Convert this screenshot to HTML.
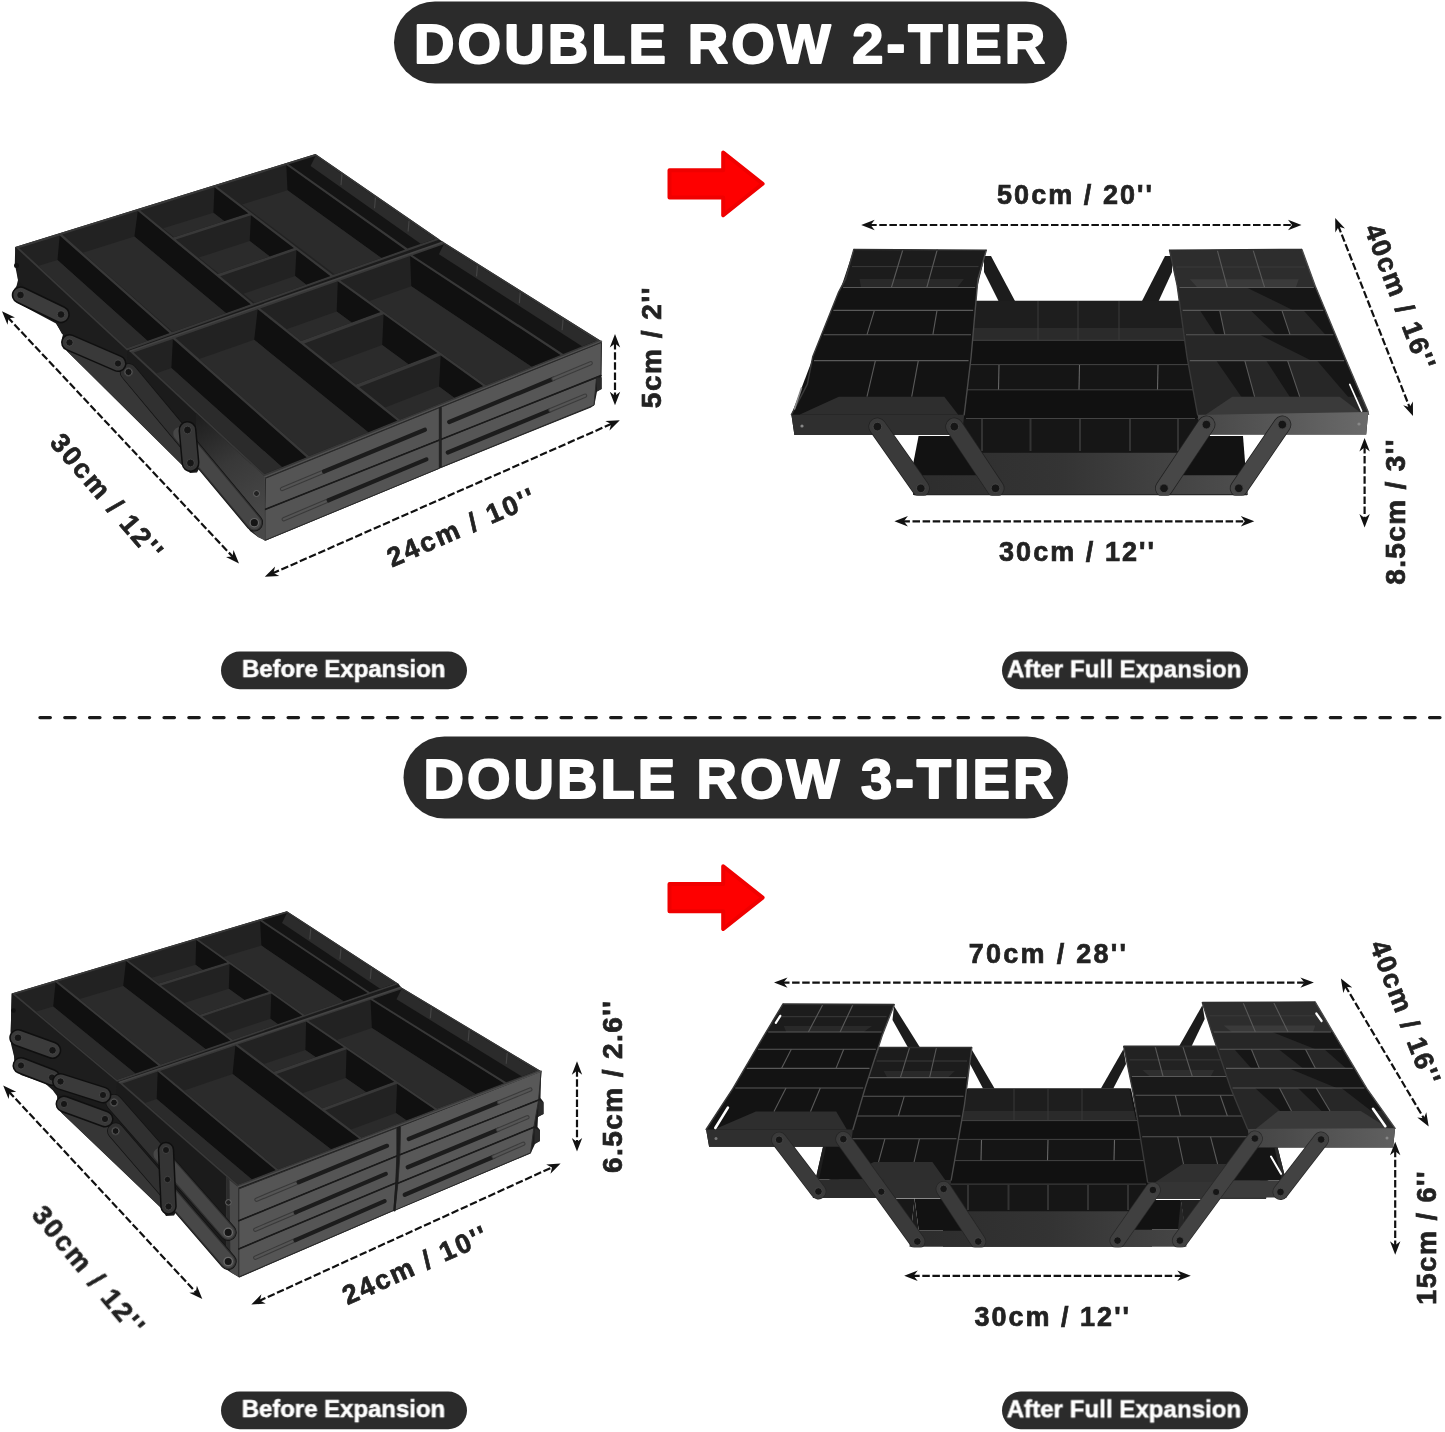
<!DOCTYPE html>
<html><head><meta charset="utf-8"><title>Double Row Tier Tool Box Dimensions</title>
<style>
html,body{margin:0;padding:0;background:#fff}
svg{display:block}
text{font-family:"Liberation Sans", Arial, Helvetica, sans-serif;font-weight:700}
.d text{stroke:#222;stroke-width:0.7px}
</style></head><body>
<svg width="1445" height="1432" viewBox="0 0 1445 1432">
<rect width="1445" height="1432" fill="#fff"/>
<rect x="394" y="1.5" width="673" height="82" rx="41" fill="#2b2b2b"/>
<text x="414.1" y="63.3" font-size="56" fill="#fff" letter-spacing="3.077" stroke="#fff" stroke-width="2" stroke-linejoin="round">DOUBLE ROW 2-TIER</text>
<rect x="403.5" y="736.5" width="664.5" height="82" rx="41" fill="#2b2b2b"/>
<text x="423.6" y="798.3" font-size="56" fill="#fff" letter-spacing="3.002" stroke="#fff" stroke-width="2" stroke-linejoin="round">DOUBLE ROW 3-TIER</text>
<line x1="40" y1="717.6" x2="1450" y2="717.6" stroke="#1a1a1a" stroke-width="3.4" stroke-linecap="round" stroke-dasharray="10.3 14.515"/>
<rect x="221" y="651.6" width="246" height="37.6" rx="18.8" fill="#2b2b2b"/>
<rect x="1002" y="651.6" width="246" height="37.6" rx="18.8" fill="#2b2b2b"/>
<rect x="221" y="1391.6" width="246" height="37.6" rx="18.8" fill="#2b2b2b"/>
<rect x="1002" y="1391.6" width="246" height="37.6" rx="18.8" fill="#2b2b2b"/>
<g opacity="0.999">
<text x="242.2" y="676.7" font-size="24" fill="#fff" letter-spacing="-0.037" stroke="#fff" stroke-width="0.5" transform="rotate(0.02)">Before Expansion</text>
<text x="1007.2" y="676.7" font-size="24" fill="#fff" letter-spacing="0.060" stroke="#fff" stroke-width="0.5" transform="rotate(0.02)">After Full Expansion</text>
<text x="242.2" y="1416.7" font-size="24" fill="#fff" letter-spacing="-0.037" stroke="#fff" stroke-width="0.5" transform="rotate(0.02)">Before Expansion</text>
<text x="1007.2" y="1416.7" font-size="24" fill="#fff" letter-spacing="0.060" stroke="#fff" stroke-width="0.5" transform="rotate(0.02)">After Full Expansion</text>
</g>
<polygon points="669.5,170.2 723.2,170.2 723.2,152.5 762.6,183.8 723.2,215.2 723.2,197.5 669.5,197.5" fill="#fe0000" stroke="#f00000" stroke-width="4" stroke-linejoin="round"/>
<polygon points="669.5,884 723.2,884 723.2,866.3 762.6,897.6 723.2,929 723.2,911.3 669.5,911.3" fill="#fe0000" stroke="#f00000" stroke-width="4" stroke-linejoin="round"/>
<g class="d" opacity="0.999">
<line x1="7.5" y1="317.1" x2="233.5" y2="557.6" stroke="#111" stroke-width="2.2" stroke-dasharray="7.5 2.6"/>
<polygon points="239,563.4 233.5,550 232.5,556.5 226,557.1" fill="#111"/>
<polygon points="2,311.3 7.5,324.7 8.5,318.2 15,317.6" fill="#111"/>
<text font-size="27" fill="#222" letter-spacing="2.156" transform="translate(107 496.2) rotate(49.4)" x="-78" y="9.7">30cm / 12''</text>
<line x1="272.1" y1="573.6" x2="612.5" y2="423.4" stroke="#111" stroke-width="2.2" stroke-dasharray="7.5 2.6"/>
<polygon points="619.8,420.2 605.3,420.9 611.1,424 609.5,430.4" fill="#111"/>
<polygon points="264.8,576.8 279.3,576.1 273.5,573 275.1,566.6" fill="#111"/>
<text font-size="27" fill="#222" letter-spacing="2.356" transform="translate(460.5 527) rotate(-23.5)" x="-79" y="9.7">24cm / 10''</text>
<line x1="615" y1="342.1" x2="615" y2="397.3" stroke="#111" stroke-width="2.2" stroke-dasharray="7.5 2.6"/>
<polygon points="615,405.3 620.2,391.8 615,395.8 609.8,391.8" fill="#111"/>
<polygon points="615,334.1 609.8,347.6 615,343.6 620.2,347.6" fill="#111"/>
<text font-size="28" fill="#222" letter-spacing="1.529" transform="translate(651.2 348) rotate(-90)" x="-60.2" y="10">5cm / 2''</text>
<line x1="869.2" y1="225" x2="1293.5" y2="225" stroke="#111" stroke-width="2.2" stroke-dasharray="7.5 2.6"/>
<polygon points="1301.5,225 1288,219.8 1292,225 1288,230.2" fill="#111"/>
<polygon points="861.2,225 874.7,230.2 870.7,225 874.7,219.8" fill="#111"/>
<text x="997" y="203.6" font-size="27" fill="#222" letter-spacing="2.056">50cm / 20''</text>
<line x1="1338.1" y1="225.3" x2="1410.1" y2="408.6" stroke="#111" stroke-width="2.2" stroke-dasharray="7.5 2.6"/>
<polygon points="1413,416 1412.9,401.5 1409.5,407.2 1403.2,405.3" fill="#111"/>
<polygon points="1335.2,217.9 1335.3,232.4 1338.7,226.7 1345,228.6" fill="#111"/>
<text font-size="27" fill="#222" letter-spacing="1.856" transform="translate(1400.4 296.4) rotate(69)" x="-76.5" y="9.7">40cm / 16''</text>
<line x1="1364.6" y1="446" x2="1364.6" y2="519.5" stroke="#111" stroke-width="2.2" stroke-dasharray="7.5 2.6"/>
<polygon points="1364.6,527.5 1369.8,514 1364.6,518 1359.4,514" fill="#111"/>
<polygon points="1364.6,438 1359.4,451.5 1364.6,447.5 1369.8,451.5" fill="#111"/>
<text font-size="28" fill="#222" letter-spacing="1.338" transform="translate(1395.4 512.2) rotate(-90)" x="-72.5" y="10">8.5cm / 3''</text>
<line x1="902.4" y1="521.3" x2="1246.3" y2="521.3" stroke="#111" stroke-width="2.2" stroke-dasharray="7.5 2.6"/>
<polygon points="1254.3,521.3 1240.8,516.1 1244.8,521.3 1240.8,526.5" fill="#111"/>
<polygon points="894.4,521.3 907.9,526.5 903.9,521.3 907.9,516.1" fill="#111"/>
<text x="999" y="561.4" font-size="27" fill="#222" letter-spacing="2.056">30cm / 12''</text>
<line x1="8.7" y1="1091.4" x2="196.8" y2="1293.2" stroke="#111" stroke-width="2.2" stroke-dasharray="7.5 2.6"/>
<polygon points="202.3,1299.1 196.9,1285.7 195.8,1292.2 189.3,1292.8" fill="#111"/>
<polygon points="3.2,1085.5 8.6,1098.9 9.7,1092.4 16.2,1091.8" fill="#111"/>
<text font-size="27" fill="#222" letter-spacing="2.356" transform="translate(88.7 1269.7) rotate(50.2)" x="-79" y="9.7">30cm / 12''</text>
<line x1="258.6" y1="1301.2" x2="553.3" y2="1166.8" stroke="#111" stroke-width="2.2" stroke-dasharray="7.5 2.6"/>
<polygon points="560.6,1163.5 546.2,1164.4 552,1167.4 550.5,1173.8" fill="#111"/>
<polygon points="251.3,1304.5 265.7,1303.6 259.9,1300.6 261.4,1294.2" fill="#111"/>
<text font-size="27" fill="#222" letter-spacing="2.056" transform="translate(414.4 1264.8) rotate(-24)" x="-77.5" y="9.7">24cm / 10''</text>
<line x1="577" y1="1069.2" x2="577" y2="1143.4" stroke="#111" stroke-width="2.2" stroke-dasharray="7.5 2.6"/>
<polygon points="577,1151.4 582.2,1137.9 577,1141.9 571.8,1137.9" fill="#111"/>
<polygon points="577,1061.2 571.8,1074.7 577,1070.7 582.2,1074.7" fill="#111"/>
<text font-size="28" fill="#222" letter-spacing="1.402" transform="translate(612 1087) rotate(-90)" x="-85.9" y="10">6.5cm / 2.6''</text>
<line x1="782" y1="982.6" x2="1305.9" y2="982.6" stroke="#111" stroke-width="2.2" stroke-dasharray="7.5 2.6"/>
<polygon points="1313.9,982.6 1300.4,977.4 1304.4,982.6 1300.4,987.8" fill="#111"/>
<polygon points="774,982.6 787.5,987.8 783.5,982.6 787.5,977.4" fill="#111"/>
<text x="968.7" y="963" font-size="27" fill="#222" letter-spacing="2.286">70cm / 28''</text>
<line x1="1345" y1="985.5" x2="1424.6" y2="1119.6" stroke="#111" stroke-width="2.2" stroke-dasharray="7.5 2.6"/>
<polygon points="1428.7,1126.5 1426.3,1112.2 1423.9,1118.3 1417.3,1117.5" fill="#111"/>
<polygon points="1340.9,978.6 1343.3,992.9 1345.7,986.8 1352.3,987.6" fill="#111"/>
<text font-size="27" fill="#222" letter-spacing="1.706" transform="translate(1405.7 1012.1) rotate(69)" x="-75.8" y="9.7">40cm / 16''</text>
<line x1="1395.2" y1="1149.7" x2="1395.2" y2="1246.7" stroke="#111" stroke-width="2.2" stroke-dasharray="7.5 2.6"/>
<polygon points="1395.2,1254.7 1400.4,1241.2 1395.2,1245.2 1390,1241.2" fill="#111"/>
<polygon points="1395.2,1141.7 1390,1155.2 1395.2,1151.2 1400.4,1155.2" fill="#111"/>
<text font-size="27" fill="#222" letter-spacing="1.509" transform="translate(1426.2 1238.2) rotate(-90)" x="-66.5" y="9.7">15cm / 6''</text>
<line x1="912.2" y1="1275.8" x2="1182.8" y2="1275.8" stroke="#111" stroke-width="2.2" stroke-dasharray="7.5 2.6"/>
<polygon points="1190.8,1275.8 1177.3,1270.6 1181.3,1275.8 1177.3,1281" fill="#111"/>
<polygon points="904.2,1275.8 917.7,1281 913.7,1275.8 917.7,1270.6" fill="#111"/>
<text x="974.5" y="1326" font-size="27" fill="#222" letter-spacing="2.006">30cm / 12''</text>
</g>
<g id="p1">
<polygon points="15.2,246.9 315.5,153.9 439.5,239.4 443.3,241.9 601.5,341.2 601.2,375 601.6,377.5 601.6,389 597,391.5 594.5,404.5 591,407.5 441,468 266,540.5 258,537 250,531 246.5,524 199.5,468 197,472.5 190,473 187,470 66.6,350.8 63.5,346 62,338 63,334.5 56,323.5 18.5,303.5 14,298 13.3,291 16.5,286 18,280 14.8,264" fill="#1b1b1b"/>
<polygon points="66.6,350.8 120,368 131,378 199,466 188,470.5" fill="#373737"/>
<polygon points="15.2,246.9 127,350.5 128,371 62,334 56,323 18,280" fill="#1d1d1d"/>
<polygon points="15.2,246.9 315.5,153.9 439.5,239.4 127,350.5" fill="#383838"/>
<clipPath id="p1a1"><polygon points="19,248 59.7,235.4 169.5,333.1 127.2,348.1"/></clipPath>
<polygon points="19,248 59.7,235.4 169.5,333.1 127.2,348.1" fill="#222222"/>
<polygon points="59.7,235.4 203.6,363.4 198.8,386.8 57.5,260" fill="#101010" clip-path="url(#p1a1)"/>
<polygon points="34.6,267.1 57.5,260 198.8,386.8 174.8,395.7" fill="#2b2b2b" clip-path="url(#p1a1)"/>
<clipPath id="p1a2"><polygon points="62.1,234.6 137.8,211.1 250.7,304.2 172,332.2"/></clipPath>
<polygon points="62.1,234.6 137.8,211.1 250.7,304.2 172,332.2" fill="#222222"/>
<polygon points="137.8,211.1 285.7,333.1 279.6,357.8 134.4,236.6" fill="#101010" clip-path="url(#p1a2)"/>
<polygon points="82.7,252.7 134.4,236.6 279.6,357.8 225.2,377.8" fill="#2b2b2b" clip-path="url(#p1a2)"/>
<clipPath id="p1a3"><polygon points="140.3,210.4 214.5,187.3 248.3,213.2 173.2,237.5"/></clipPath>
<polygon points="140.3,210.4 214.5,187.3 248.3,213.2 173.2,237.5" fill="#222222"/>
<polygon points="214.5,187.3 284.3,240.7 280.8,264.9 213.4,212.7" fill="#101010" clip-path="url(#p1a3)"/>
<polygon points="163.2,228.3 213.4,212.7 280.8,264.9 229.4,282.2" fill="#2b2b2b" clip-path="url(#p1a3)"/>
<clipPath id="p1a4"><polygon points="175.8,239.6 251,215.2 293.9,248.1 217.6,274.1"/></clipPath>
<polygon points="175.8,239.6 251,215.2 293.9,248.1 217.6,274.1" fill="#222222"/>
<polygon points="251,215.2 329.8,275.6 326.1,300 249.7,240.9" fill="#101010" clip-path="url(#p1a4)"/>
<polygon points="198.9,257.4 249.7,240.9 326.1,300 274,318.5" fill="#2b2b2b" clip-path="url(#p1a4)"/>
<clipPath id="p1a5"><polygon points="220.2,276.2 296.5,250.1 330.3,276 253.2,303.4"/></clipPath>
<polygon points="220.2,276.2 296.5,250.1 330.3,276 253.2,303.4" fill="#222222"/>
<polygon points="296.5,250.1 366.3,303.5 362.4,328.2 295.1,276" fill="#101010" clip-path="url(#p1a5)"/>
<polygon points="243.5,293.7 295.1,276 362.4,328.2 309.7,347.6" fill="#2b2b2b" clip-path="url(#p1a5)"/>
<clipPath id="p1a6"><polygon points="216.9,186.6 286.3,165 405,249.5 332.8,275.1"/></clipPath>
<polygon points="216.9,186.6 286.3,165 405,249.5 332.8,275.1" fill="#222222"/>
<polygon points="286.3,165 441.8,275.7 440.2,300.4 287.5,190.3" fill="#101010" clip-path="url(#p1a6)"/>
<polygon points="242.1,204.5 287.5,190.3 440.2,300.4 392.5,317.9" fill="#2b2b2b" clip-path="url(#p1a6)"/>
<clipPath id="p1a7"><polygon points="288.7,164.3 315.6,155.9 435.5,238.7 407.5,248.6"/></clipPath>
<polygon points="288.7,164.3 315.6,155.9 435.5,238.7 407.5,248.6" fill="#141414"/>
<polygon points="315.6,155.9 435.5,238.7 430.5,250.7 310.6,165.9" fill="#2b2b2b" clip-path="url(#p1a7)"/>
<line x1="342" y1="174.1" x2="341" y2="185.1" stroke="#444" stroke-width="1.2" clip-path="url(#p1a7)"/>
<line x1="375.5" y1="197.3" x2="374.5" y2="208.3" stroke="#444" stroke-width="1.2" clip-path="url(#p1a7)"/>
<line x1="409.1" y1="220.5" x2="408.1" y2="231.5" stroke="#444" stroke-width="1.2" clip-path="url(#p1a7)"/>
<polygon points="129.5,351.2 443.3,241.9 601.5,341.2 264.6,477" fill="#383838"/>
<clipPath id="p1b8"><polygon points="133.7,352.6 172.9,338.9 306.5,457.2 264.5,474.1"/></clipPath>
<polygon points="133.7,352.6 172.9,338.9 306.5,457.2 264.5,474.1" fill="#222222"/>
<polygon points="172.9,338.9 347.9,493.9 343.1,521.8 171.4,368.1" fill="#101010" clip-path="url(#p1b8)"/>
<polygon points="149.4,375.8 171.4,368.1 343.1,521.8 319.1,531.8" fill="#2b2b2b" clip-path="url(#p1b8)"/>
<clipPath id="p1b9"><polygon points="175.4,338 257.7,309.3 397.3,420.6 309.1,456.1"/></clipPath>
<polygon points="175.4,338 257.7,309.3 397.3,420.6 309.1,456.1" fill="#222222"/>
<polygon points="257.7,309.3 440.6,455.2 433.3,484.9 254.2,339.8" fill="#101010" clip-path="url(#p1b9)"/>
<polygon points="196.9,359.8 254.2,339.8 433.3,484.9 370.8,511" fill="#2b2b2b" clip-path="url(#p1b9)"/>
<clipPath id="p1b10"><polygon points="260.2,308.4 337.8,281.3 380.3,311.9 301.1,340.9"/></clipPath>
<polygon points="260.2,308.4 337.8,281.3 380.3,311.9 301.1,340.9" fill="#222222"/>
<polygon points="337.8,281.3 425.4,344.4 421,373.4 336.7,311.6" fill="#101010" clip-path="url(#p1b10)"/>
<polygon points="284.2,330.1 336.7,311.6 421,373.4 366.3,394.4" fill="#2b2b2b" clip-path="url(#p1b10)"/>
<clipPath id="p1b11"><polygon points="304.2,343.4 383.6,314.3 437.4,353.1 356,384.6"/></clipPath>
<polygon points="304.2,343.4 383.6,314.3 437.4,353.1 356,384.6" fill="#222222"/>
<polygon points="383.6,314.3 482.5,385.6 477.8,415 382.2,345" fill="#101010" clip-path="url(#p1b11)"/>
<polygon points="328.5,364.7 382.2,345 477.8,415 421.6,437.6" fill="#2b2b2b" clip-path="url(#p1b11)"/>
<clipPath id="p1b12"><polygon points="359.2,387.1 440.7,355.5 483.1,386.1 400,419.6"/></clipPath>
<polygon points="359.2,387.1 440.7,355.5 483.1,386.1 400,419.6" fill="#222222"/>
<polygon points="440.7,355.5 528.2,418.7 523.3,448.4 439,386.6" fill="#101010" clip-path="url(#p1b12)"/>
<polygon points="383.8,408 439,386.6 523.3,448.4 465.9,472.3" fill="#2b2b2b" clip-path="url(#p1b12)"/>
<clipPath id="p1b13"><polygon points="340.3,280.4 410.1,256 560.5,355 485.8,385"/></clipPath>
<polygon points="340.3,280.4 410.1,256 560.5,355 485.8,385" fill="#222222"/>
<polygon points="410.1,256 607.2,385.7 604.4,415.4 411.3,286.3" fill="#101010" clip-path="url(#p1b13)"/>
<polygon points="366.6,301.9 411.3,286.3 604.4,415.4 555.7,435.8" fill="#2b2b2b" clip-path="url(#p1b13)"/>
<clipPath id="p1b14"><polygon points="412.6,255.2 443.9,244.2 596.7,340.4 563.2,353.9"/></clipPath>
<polygon points="412.6,255.2 443.9,244.2 596.7,340.4 563.2,353.9" fill="#141414"/>
<polygon points="443.9,244.2 596.7,340.4 591.7,352.4 438.9,254.2" fill="#2b2b2b" clip-path="url(#p1b14)"/>
<line x1="477.5" y1="265.4" x2="476.5" y2="276.4" stroke="#444" stroke-width="1.2" clip-path="url(#p1b14)"/>
<line x1="520.3" y1="292.3" x2="519.3" y2="303.3" stroke="#444" stroke-width="1.2" clip-path="url(#p1b14)"/>
<line x1="563.1" y1="319.3" x2="562.1" y2="330.3" stroke="#444" stroke-width="1.2" clip-path="url(#p1b14)"/>
<line x1="129.5" y1="351.2" x2="443.3" y2="241.9" stroke="#444" stroke-width="1.6" />
<polygon points="247.5,461 264.6,477 265.5,478.3 264.9,540.4 258,537 249.5,528" fill="#4a4a4a"/>
<polygon points="247.5,461 251,464 252.5,530 249.5,528" fill="#2c2c2c"/>
<polygon points="265.5,478.3 439.3,407.8 439.3,440 264.9,509.6" fill="#545454" stroke="#2a2a2a" stroke-width="1" stroke-linejoin="round"/>
<line x1="282" y1="489" x2="324" y2="471.5" stroke="#3a3a3a" stroke-width="4.4" stroke-linecap="round"/>
<line x1="282" y1="489" x2="324" y2="471.5" stroke="#545454" stroke-width="2.2" stroke-linecap="round"/>
<line x1="324" y1="471.5" x2="424.9" y2="429.7" stroke="#1c1c1c" stroke-width="4.2" stroke-linecap="round"/>
<polygon points="441.3,407 601.5,342.4 601,375.5 441.3,439.4" fill="#565656" stroke="#2a2a2a" stroke-width="1" stroke-linejoin="round"/>
<line x1="449.2" y1="422" x2="553.5" y2="378.8" stroke="#1c1c1c" stroke-width="4.2" stroke-linecap="round"/>
<line x1="553.5" y1="378.8" x2="590.7" y2="363.2" stroke="#3c3c3c" stroke-width="4.4" stroke-linecap="round"/>
<line x1="553.5" y1="378.8" x2="590.7" y2="363.2" stroke="#555" stroke-width="2.2" stroke-linecap="round"/>
<polygon points="264.9,509.6 439.3,440 439.3,468.3 264.9,540.4" fill="#545454" stroke="#2a2a2a" stroke-width="1" stroke-linejoin="round"/>
<line x1="283.7" y1="519.2" x2="328.6" y2="500.3" stroke="#3a3a3a" stroke-width="4.4" stroke-linecap="round"/>
<line x1="283.7" y1="519.2" x2="328.6" y2="500.3" stroke="#545454" stroke-width="2.2" stroke-linecap="round"/>
<line x1="328.6" y1="500.3" x2="426.4" y2="459.4" stroke="#1c1c1c" stroke-width="4.2" stroke-linecap="round"/>
<polygon points="441.3,439.4 596.5,377.8 594,405.2 441.3,467.2" fill="#565656" stroke="#2a2a2a" stroke-width="1" stroke-linejoin="round"/>
<line x1="447.8" y1="452.5" x2="550.5" y2="410.1" stroke="#1c1c1c" stroke-width="4.2" stroke-linecap="round"/>
<line x1="550.5" y1="410.1" x2="585" y2="395.7" stroke="#3c3c3c" stroke-width="4.4" stroke-linecap="round"/>
<line x1="550.5" y1="410.1" x2="585" y2="395.7" stroke="#555" stroke-width="2.2" stroke-linecap="round"/>
<polyline points="264.9,509.6 440.2,439.7 601,375.5" fill="none" stroke="#1a1a1a" stroke-width="1.6" stroke-linejoin="round" stroke-linecap="round" />
<line x1="440.2" y1="407.3" x2="440.2" y2="468" stroke="#222" stroke-width="1.8" />
<polyline points="264.6,477 441,405.6 601.5,341.2" fill="none" stroke="#505050" stroke-width="1.4" stroke-linejoin="round" stroke-linecap="round" />
<polygon points="596.5,377.5 601.6,377.5 601.6,389 597,391.5" fill="#2a2a2a"/>
<linearGradient id="p1sf" gradientUnits="userSpaceOnUse" x1="196" y1="420" x2="258" y2="520"><stop offset="0" stop-color="#1f1f1f"/><stop offset="0.45" stop-color="#383838"/><stop offset="1" stop-color="#484848"/></linearGradient>
<polygon points="196,413 264.6,477 265,540.4 256,533 222,492 196,458" fill="url(#p1sf)"/>
<line x1="128.5" y1="372" x2="254.3" y2="522.7" stroke="#131313" stroke-width="17.5" stroke-linecap="round"/>
<line x1="128.5" y1="372" x2="254.3" y2="522.7" stroke="#303030" stroke-width="16" stroke-linecap="round"/>
<circle cx="128.5" cy="372" r="4.2" fill="#161616" stroke="#4a4a4a" stroke-width="0.8"/>
<circle cx="254.3" cy="522.7" r="4.2" fill="#161616" stroke="#4a4a4a" stroke-width="0.8"/>
<line x1="180" y1="433.7" x2="254.3" y2="522.7" stroke="#464646" stroke-width="13.5" stroke-linecap="round"/>
<circle cx="254.3" cy="522.7" r="4.2" fill="#151515" stroke="#666" stroke-width="1.2"/>
<circle cx="128.5" cy="372" r="3.6" fill="#151515" stroke="#555" stroke-width="1"/>
<line x1="187.5" y1="430" x2="190.5" y2="463" stroke="#0f0f0f" stroke-width="18" stroke-linecap="round"/>
<line x1="187.5" y1="430" x2="190.5" y2="463" stroke="#363636" stroke-width="15" stroke-linecap="round"/>
<circle cx="187.5" cy="430" r="3.9" fill="#161616" stroke="#4a4a4a" stroke-width="0.8"/>
<circle cx="190.5" cy="463" r="3.9" fill="#161616" stroke="#4a4a4a" stroke-width="0.8"/>
<line x1="20.5" y1="295" x2="61" y2="314.5" stroke="#0f0f0f" stroke-width="17.5" stroke-linecap="round"/>
<line x1="20.5" y1="295" x2="61" y2="314.5" stroke="#3c3c3c" stroke-width="14.5" stroke-linecap="round"/>
<circle cx="20.5" cy="295" r="3.8" fill="#161616" stroke="#4a4a4a" stroke-width="0.8"/>
<circle cx="61" cy="314.5" r="3.8" fill="#161616" stroke="#4a4a4a" stroke-width="0.8"/>
<line x1="69.5" y1="342.5" x2="118" y2="363.5" stroke="#0f0f0f" stroke-width="17" stroke-linecap="round"/>
<line x1="69.5" y1="342.5" x2="118" y2="363.5" stroke="#393939" stroke-width="14" stroke-linecap="round"/>
<circle cx="69.5" cy="342.5" r="3.6" fill="#161616" stroke="#4a4a4a" stroke-width="0.8"/>
<circle cx="118" cy="363.5" r="3.6" fill="#161616" stroke="#4a4a4a" stroke-width="0.8"/>
<circle cx="16.5" cy="265.5" r="2.5" fill="#111"/>
<circle cx="256.5" cy="493.5" r="3" fill="#222" stroke="#666" stroke-width="1"/>
</g>
<g id="p2">
<polygon points="918.6,436 1243,436 1247.6,495 913,495 913.5,462" fill="#121212"/>
<polygon points="972,300.7 1182,300.7 1200,436 1190,460 970,460 960,436" fill="#121212"/>
<polygon points="972,301 1182,301 1186,340.3 968,340.3" fill="#1e1e1e"/>
<polygon points="970,328 1184,328 1186,340.3 968,340.3" fill="#2b2b2b"/>
<polygon points="960,340.3 1200,340.3 1200,364.6 960,364.6" fill="#111111"/>
<polygon points="960,364.6 1200,364.6 1200,389.8 960,389.8" fill="#151515"/>
<polygon points="960,389.8 1200,389.8 1200,418.5 960,418.5" fill="#111111"/>
<polygon points="960,418.5 1200,418.5 1200,452.7 960,452.7" fill="#161616"/>
<line x1="966" y1="340.3" x2="1195" y2="340.3" stroke="#444" stroke-width="1" />
<line x1="966" y1="364.6" x2="1195" y2="364.6" stroke="#444" stroke-width="1" />
<line x1="966" y1="389.8" x2="1195" y2="389.8" stroke="#444" stroke-width="1" />
<line x1="966" y1="418.5" x2="1195" y2="418.5" stroke="#444" stroke-width="1" />
<line x1="1038" y1="301" x2="1038" y2="340" stroke="#3a3a3a" stroke-width="1" />
<line x1="1078" y1="301" x2="1078" y2="340" stroke="#3a3a3a" stroke-width="1" />
<line x1="1119" y1="301" x2="1119" y2="340" stroke="#3a3a3a" stroke-width="1" />
<line x1="999" y1="365" x2="998.5" y2="389.5" stroke="#666" stroke-width="1.1" />
<line x1="1079.5" y1="365" x2="1079" y2="389.5" stroke="#666" stroke-width="1.1" />
<line x1="1158" y1="365" x2="1157.5" y2="389.5" stroke="#666" stroke-width="1.1" />
<line x1="982" y1="419" x2="982" y2="451" stroke="#333" stroke-width="2" />
<line x1="1030.5" y1="419" x2="1030.5" y2="451" stroke="#333" stroke-width="2" />
<line x1="1080" y1="419" x2="1080" y2="451" stroke="#333" stroke-width="2" />
<line x1="1130" y1="419" x2="1130" y2="451" stroke="#333" stroke-width="2" />
<line x1="1178" y1="419" x2="1178" y2="451" stroke="#333" stroke-width="2" />
<linearGradient id="p2bd" gradientUnits="userSpaceOnUse" x1="913" y1="0" x2="1247" y2="0"><stop offset="0" stop-color="#2d2d2d"/><stop offset="0.45" stop-color="#343434"/><stop offset="1" stop-color="#4e4e4e"/></linearGradient>
<polygon points="913.5,475.2 976,475.2 976,452.7 1180,452.7 1180,475.2 1246.5,475.2 1247.6,495 913,495" fill="url(#p2bd)"/>
<line x1="914" y1="494.6" x2="1247" y2="494.6" stroke="#262626" stroke-width="1.2" />
<polygon points="984,256 991,256 1015,301 998.5,301 984,272" fill="#1c1c1c"/>
<polygon points="1172,256 1165,256 1142,301 1158.7,301 1172,272" fill="#1c1c1c"/>
<polygon points="853.8,249.5 845.5,279.2 838.6,292.1 812.7,356.8 807.4,384.2 791.4,414.7 794.4,435 962.2,435 964.2,414.7 971.1,356.8 977.9,279.2 986.3,250.2" fill="#121212"/>
<polygon points="853.8,249.5 986.3,250.2 977.2,287.5 841.1,287.5" fill="#1c1c1c"/>
<polygon points="859.5,279.1 963.9,279.1 957.2,287.5 861.1,287.5" fill="#292929"/>
<line x1="852" y1="266.6" x2="978.5" y2="266.6" stroke="#3a3a3a" stroke-width="1" />
<polygon points="841.1,287.5 977.2,287.5 975.2,310.4 831.3,310.4" fill="#131313"/>
<polygon points="831.3,310.4 975.2,310.4 973,334.7 821.5,334.7" fill="#131313"/>
<polygon points="821.5,334.7 973,334.7 970.6,360.6 812,360.6" fill="#131313"/>
<polygon points="812,360.6 970.6,360.6 964.2,414.7 791.4,414.7" fill="#131313"/>
<polygon points="838.8,396.7 944.3,396.7 958.2,414.7 799.4,414.7" fill="#2e2e2e"/>
<polygon points="791.4,414.7 964.2,414.7 962.2,435 794.4,435" fill="#2f2f2f"/>
<line x1="843.1" y1="287.5" x2="975.2" y2="287.5" stroke="#595959" stroke-width="1.1" />
<line x1="833.3" y1="310.4" x2="973.2" y2="310.4" stroke="#595959" stroke-width="1.1" />
<line x1="823.5" y1="334.7" x2="971" y2="334.7" stroke="#595959" stroke-width="1.1" />
<line x1="814" y1="360.6" x2="968.6" y2="360.6" stroke="#595959" stroke-width="1.1" />
<line x1="902.9" y1="249.5" x2="891.4" y2="287.5" stroke="#5a5a5a" stroke-width="1.1" />
<line x1="937.3" y1="249.5" x2="926.8" y2="287.5" stroke="#5a5a5a" stroke-width="1.1" />
<line x1="874.4" y1="310.4" x2="867" y2="334.7" stroke="#5a5a5a" stroke-width="1.1" />
<line x1="937" y1="310.4" x2="932.9" y2="334.7" stroke="#5a5a5a" stroke-width="1.1" />
<line x1="875.4" y1="360.6" x2="867" y2="396.7" stroke="#5a5a5a" stroke-width="1.1" />
<line x1="918.3" y1="360.6" x2="911.7" y2="396.7" stroke="#5a5a5a" stroke-width="1.1" />
<polyline points="853.8,249.5 845.5,279.2 838.6,292.1 812.7,356.8 807.4,384.2 791.4,414.7" fill="none" stroke="#3a3a3a" stroke-width="1.4" stroke-linejoin="round" stroke-linecap="round" />
<polyline points="986.3,250.2 977.9,279.2 971.1,356.8 964.2,414.7" fill="none" stroke="#4a4a4a" stroke-width="1.4" stroke-linejoin="round" stroke-linecap="round" />
<line x1="853.8" y1="249.5" x2="986.3" y2="250.2" stroke="#2e2e2e" stroke-width="1.6" />
<polygon points="1169.5,250.2 1177.1,285.2 1187,356.8 1197.6,414.7 1200.6,434.6 1366.2,434.6 1368.2,412 1344.6,356.8 1314.9,285.2 1301.9,249.5" fill="#121212"/>
<polygon points="1169.5,250.2 1301.9,249.5 1315.9,287.5 1177.4,287.5" fill="#2d2d2d"/>
<polygon points="1189.8,279.3 1298.7,279.3 1295.9,287.5 1197.4,287.5" fill="#3a3a3a"/>
<line x1="1176.1" y1="267" x2="1305.3" y2="267" stroke="#3a3a3a" stroke-width="1" />
<polygon points="1177.4,287.5 1315.9,287.5 1325.4,310.4 1180.6,310.4" fill="#272727"/>
<polygon points="1180.6,310.4 1325.4,310.4 1335.4,334.7 1183.9,334.7" fill="#272727"/>
<polygon points="1183.9,334.7 1335.4,334.7 1346.2,360.6 1187.7,360.6" fill="#272727"/>
<polygon points="1187.7,360.6 1346.2,360.6 1369.3,414.7 1197.6,414.7" fill="#272727"/>
<polygon points="1246.6,287.5 1315.9,287.5 1325.4,310.4 1293.5,310.4" fill="#161616"/>
<polygon points="1200.1,310.4 1219.7,310.4 1224.8,334.7 1215.8,334.7" fill="#161616"/>
<polygon points="1250.8,310.4 1281.9,310.4 1290,334.7 1275.7,334.7" fill="#161616"/>
<polygon points="1303.6,310.4 1325.4,310.4 1335.4,334.7 1325.4,334.7" fill="#161616"/>
<polygon points="1259.7,334.7 1335.4,334.7 1346.2,360.6 1311.3,360.6" fill="#161616"/>
<polygon points="1216.2,360.6 1244.8,360.6 1254.6,396.7 1241.3,396.7" fill="#161616"/>
<polygon points="1266.2,360.6 1287.6,360.6 1299.7,396.7 1289.8,396.7" fill="#161616"/>
<polygon points="1316.9,360.6 1346.2,360.6 1361.7,396.7 1348,396.7" fill="#161616"/>
<polygon points="1232.3,396.7 1339.7,396.7 1363.3,414.7 1205.6,414.7" fill="#3a3a3a"/>
<linearGradient id="sfg1" gradientUnits="userSpaceOnUse" x1="1197.6" y1="0" x2="1368.2" y2="0"><stop offset="0" stop-color="#474747"/><stop offset="1" stop-color="#6a6a6a"/></linearGradient>
<polygon points="1197.6,414.7 1368.2,412 1366.2,434.6 1200.6,434.6" fill="url(#sfg1)"/>
<line x1="1179.4" y1="287.5" x2="1313.9" y2="287.5" stroke="#595959" stroke-width="1.1" />
<line x1="1182.6" y1="310.4" x2="1323.4" y2="310.4" stroke="#595959" stroke-width="1.1" />
<line x1="1185.9" y1="334.7" x2="1333.4" y2="334.7" stroke="#595959" stroke-width="1.1" />
<line x1="1189.7" y1="360.6" x2="1344.2" y2="360.6" stroke="#595959" stroke-width="1.1" />
<line x1="1217.3" y1="250.2" x2="1227.3" y2="287.5" stroke="#5a5a5a" stroke-width="1.1" />
<line x1="1253.1" y1="250.2" x2="1264.6" y2="287.5" stroke="#5a5a5a" stroke-width="1.1" />
<line x1="1219.7" y1="310.4" x2="1224.8" y2="334.7" stroke="#5a5a5a" stroke-width="1.1" />
<line x1="1281.9" y1="310.4" x2="1290" y2="334.7" stroke="#5a5a5a" stroke-width="1.1" />
<line x1="1244.8" y1="360.6" x2="1254.6" y2="396.7" stroke="#5a5a5a" stroke-width="1.1" />
<line x1="1287.6" y1="360.6" x2="1299.7" y2="396.7" stroke="#5a5a5a" stroke-width="1.1" />
<polyline points="1169.5,250.2 1177.1,285.2 1187,356.8 1197.6,414.7" fill="none" stroke="#3a3a3a" stroke-width="1.4" stroke-linejoin="round" stroke-linecap="round" />
<polyline points="1301.9,249.5 1314.9,285.2 1344.6,356.8 1368.2,412" fill="none" stroke="#4a4a4a" stroke-width="1.4" stroke-linejoin="round" stroke-linecap="round" />
<line x1="1169.5" y1="250.2" x2="1301.9" y2="249.5" stroke="#2e2e2e" stroke-width="1.6" />
<clipPath id="p2ac"><rect x="700" y="200" width="745" height="295.4"/></clipPath><g clip-path="url(#p2ac)">
<line x1="877.4" y1="426.6" x2="920.8" y2="488.3" stroke="#222222" stroke-width="18" stroke-linecap="round"/>
<line x1="877.4" y1="426.6" x2="920.8" y2="488.3" stroke="#3a3a3a" stroke-width="16.5" stroke-linecap="round"/>
<circle cx="877.4" cy="426.6" r="4.3" fill="#161616" stroke="#4a4a4a" stroke-width="0.8"/>
<circle cx="920.8" cy="488.3" r="4.3" fill="#161616" stroke="#4a4a4a" stroke-width="0.8"/>
<line x1="954.3" y1="426.6" x2="995.5" y2="488.3" stroke="#222222" stroke-width="18" stroke-linecap="round"/>
<line x1="954.3" y1="426.6" x2="995.5" y2="488.3" stroke="#3a3a3a" stroke-width="16.5" stroke-linecap="round"/>
<circle cx="954.3" cy="426.6" r="4.3" fill="#161616" stroke="#4a4a4a" stroke-width="0.8"/>
<circle cx="995.5" cy="488.3" r="4.3" fill="#161616" stroke="#4a4a4a" stroke-width="0.8"/>
<line x1="1206.4" y1="424.6" x2="1164" y2="488.3" stroke="#222222" stroke-width="18" stroke-linecap="round"/>
<line x1="1206.4" y1="424.6" x2="1164" y2="488.3" stroke="#474747" stroke-width="16.5" stroke-linecap="round"/>
<circle cx="1206.4" cy="424.6" r="4.3" fill="#161616" stroke="#4a4a4a" stroke-width="0.8"/>
<circle cx="1164" cy="488.3" r="4.3" fill="#161616" stroke="#4a4a4a" stroke-width="0.8"/>
<line x1="1282.3" y1="424.6" x2="1238.8" y2="488.3" stroke="#222222" stroke-width="18" stroke-linecap="round"/>
<line x1="1282.3" y1="424.6" x2="1238.8" y2="488.3" stroke="#474747" stroke-width="16.5" stroke-linecap="round"/>
<circle cx="1282.3" cy="424.6" r="4.3" fill="#161616" stroke="#4a4a4a" stroke-width="0.8"/>
<circle cx="1238.8" cy="488.3" r="4.3" fill="#161616" stroke="#4a4a4a" stroke-width="0.8"/>
</g>
<line x1="1349.8" y1="384.5" x2="1361.6" y2="411" stroke="#fff" stroke-width="1.7" stroke-linecap="round"/>
<line x1="801.5" y1="388" x2="794.5" y2="409" stroke="#8a8a8a" stroke-width="1.6" stroke-linecap="round"/>
<circle cx="802" cy="426" r="1.6" fill="#888"/>
<circle cx="1359" cy="424" r="1.6" fill="#888"/>
</g>
<g id="p3">
<polygon points="11.7,993.4 286.9,911.2 398.7,984 401,987.3 541.2,1071.2 540.5,1098 543.5,1102 543.5,1114 538,1117 537.5,1127 540,1130 540,1141 535,1144 530.6,1153.5 394,1210.8 239.5,1277.5 231,1272.5 222.5,1267 178,1209 174,1215.5 166,1216 161,1208 61.2,1112.4 58,1108 57,1096 54,1092 50,1085 21,1075 14.5,1068 14,1056 11,1044 10.5,1031 11,1020" fill="#1b1b1b"/>
<polygon points="61.2,1112.4 110,1124 176,1207 162,1208.5" fill="#363636"/>
<polygon points="11.7,993.4 117,1081.8 116,1102 57,1094 14,1056 11,1020" fill="#1d1d1d"/>
<polygon points="11.7,993.4 286.9,911.2 398.7,984 117,1081.8" fill="#383838"/>
<clipPath id="p3a15"><polygon points="15.2,994.3 55.6,982.2 158.3,1065.4 117.1,1079.7"/></clipPath>
<polygon points="15.2,994.3 55.6,982.2 158.3,1065.4 117.1,1079.7" fill="#222222"/>
<polygon points="55.6,982.2 190.2,1091.2 185.7,1114.5 53.2,1006.5" fill="#101010" clip-path="url(#p3a15)"/>
<polygon points="30.6,1013.3 53.2,1006.5 185.7,1114.5 162.4,1122.9" fill="#2b2b2b" clip-path="url(#p3a15)"/>
<clipPath id="p3a16"><polygon points="57.8,981.6 126,961.1 230.4,1040.4 160.6,1064.6"/></clipPath>
<polygon points="57.8,981.6 126,961.1 230.4,1040.4 160.6,1064.6" fill="#222222"/>
<polygon points="126,961.1 262.8,1065.1 257.8,1089.1 123.2,985.9" fill="#101010" clip-path="url(#p3a16)"/>
<polygon points="77,999.8 123.2,985.9 257.8,1089.1 210.1,1106.3" fill="#2b2b2b" clip-path="url(#p3a16)"/>
<clipPath id="p3a17"><polygon points="128.2,960.5 196.2,940.1 227.2,962.2 158.8,983.6"/></clipPath>
<polygon points="128.2,960.5 196.2,940.1 227.2,962.2 158.8,983.6" fill="#222222"/>
<polygon points="196.2,940.1 260.1,985.6 257.3,1009.2 195.5,964.8" fill="#101010" clip-path="url(#p3a17)"/>
<polygon points="149.5,978.6 195.5,964.8 257.3,1009.2 210.6,1024.5" fill="#2b2b2b" clip-path="url(#p3a17)"/>
<clipPath id="p3a18"><polygon points="161.1,985.4 229.6,963.9 268.9,991.8 199.8,1014.7"/></clipPath>
<polygon points="161.1,985.4 229.6,963.9 268.9,991.8 199.8,1014.7" fill="#222222"/>
<polygon points="229.6,963.9 301.7,1015.2 298.8,1039.1 228.8,988.8" fill="#101010" clip-path="url(#p3a18)"/>
<polygon points="182.5,1003.4 228.8,988.8 298.8,1039.1 251.8,1055.4" fill="#2b2b2b" clip-path="url(#p3a18)"/>
<clipPath id="p3a19"><polygon points="202.2,1016.5 271.3,993.5 302.2,1015.6 232.7,1039.7"/></clipPath>
<polygon points="202.2,1016.5 271.3,993.5 302.2,1015.6 232.7,1039.7" fill="#222222"/>
<polygon points="271.3,993.5 335.1,1039 332.1,1063.1 270.4,1018.7" fill="#101010" clip-path="url(#p3a19)"/>
<polygon points="223.6,1034.3 270.4,1018.7 332.1,1063.1 284.8,1080.1" fill="#2b2b2b" clip-path="url(#p3a19)"/>
<clipPath id="p3a20"><polygon points="198.4,939.4 260.1,921 367.6,992.9 304.5,1014.8"/></clipPath>
<polygon points="198.4,939.4 260.1,921 367.6,992.9 304.5,1014.8" fill="#222222"/>
<polygon points="260.1,921 400.9,1015.3 399.8,1039.4 261.4,945.6" fill="#101010" clip-path="url(#p3a20)"/>
<polygon points="221.7,957.5 261.4,945.6 399.8,1039.4 359,1054.1" fill="#2b2b2b" clip-path="url(#p3a20)"/>
<clipPath id="p3a21"><polygon points="262.3,920.3 287,912.9 395.1,983.4 369.8,992.2"/></clipPath>
<polygon points="262.3,920.3 287,912.9 395.1,983.4 369.8,992.2" fill="#141414"/>
<polygon points="287,912.9 395.1,983.4 390.1,995.4 282,922.9" fill="#2b2b2b" clip-path="url(#p3a21)"/>
<line x1="310.8" y1="928.4" x2="309.8" y2="939.4" stroke="#444" stroke-width="1.2" clip-path="url(#p3a21)"/>
<line x1="341" y1="948.2" x2="340" y2="959.2" stroke="#444" stroke-width="1.2" clip-path="url(#p3a21)"/>
<line x1="371.3" y1="967.9" x2="370.3" y2="978.9" stroke="#444" stroke-width="1.2" clip-path="url(#p3a21)"/>
<polygon points="118.7,1082.4 401,987.3 541.2,1071.2 238,1187" fill="#383838"/>
<clipPath id="p3b22"><polygon points="122.5,1083.5 157.7,1071.6 275.7,1170.1 238,1184.5"/></clipPath>
<polygon points="122.5,1083.5 157.7,1071.6 275.7,1170.1 238,1184.5" fill="#222222"/>
<polygon points="157.7,1071.6 312.3,1200.7 308.4,1227.1 156.7,1099.1" fill="#101010" clip-path="url(#p3b22)"/>
<polygon points="136.9,1105.8 156.7,1099.1 308.4,1227.1 286.8,1235.5" fill="#2b2b2b" clip-path="url(#p3b22)"/>
<clipPath id="p3b23"><polygon points="160,1070.9 235.4,1045.4 359,1138.4 278.1,1169.2"/></clipPath>
<polygon points="160,1070.9 235.4,1045.4 359,1138.4 278.1,1169.2" fill="#222222"/>
<polygon points="235.4,1045.4 397.3,1167.3 391.1,1195.1 232.6,1073.9" fill="#101010" clip-path="url(#p3b23)"/>
<polygon points="179.7,1091.9 232.6,1073.9 391.1,1195.1 333.3,1217.9" fill="#2b2b2b" clip-path="url(#p3b23)"/>
<clipPath id="p3b24"><polygon points="237.7,1044.6 306.1,1021.5 343.7,1047.2 273.8,1071.7"/></clipPath>
<polygon points="237.7,1044.6 306.1,1021.5 343.7,1047.2 273.8,1071.7" fill="#222222"/>
<polygon points="306.1,1021.5 383.6,1074.5 380,1101.8 305.4,1050" fill="#101010" clip-path="url(#p3b24)"/>
<polygon points="259.6,1065.5 305.4,1050 380,1101.8 332.3,1119.3" fill="#2b2b2b" clip-path="url(#p3b24)"/>
<clipPath id="p3b25"><polygon points="276.6,1073.9 346.6,1049.2 394.2,1081.8 322.5,1108.2"/></clipPath>
<polygon points="276.6,1073.9 346.6,1049.2 394.2,1081.8 322.5,1108.2" fill="#222222"/>
<polygon points="346.6,1049.2 434.1,1109.1 430.3,1136.7 345.7,1078" fill="#101010" clip-path="url(#p3b25)"/>
<polygon points="298.8,1094.5 345.7,1078 430.3,1136.7 381.2,1155.4" fill="#2b2b2b" clip-path="url(#p3b25)"/>
<clipPath id="p3b26"><polygon points="325.3,1110.3 397.1,1083.8 434.7,1109.5 361.4,1137.5"/></clipPath>
<polygon points="325.3,1110.3 397.1,1083.8 434.7,1109.5 361.4,1137.5" fill="#222222"/>
<polygon points="397.1,1083.8 474.6,1136.8 470.5,1164.7 395.9,1112.9" fill="#101010" clip-path="url(#p3b26)"/>
<polygon points="347.7,1130.7 395.9,1112.9 470.5,1164.7 420.4,1184.4" fill="#2b2b2b" clip-path="url(#p3b26)"/>
<clipPath id="p3b27"><polygon points="308.3,1020.8 370.5,999.8 503.8,1083.2 437.1,1108.6"/></clipPath>
<polygon points="308.3,1020.8 370.5,999.8 503.8,1083.2 437.1,1108.6" fill="#222222"/>
<polygon points="370.5,999.8 545.1,1109.1 542.9,1137 371.9,1028.1" fill="#101010" clip-path="url(#p3b27)"/>
<polygon points="332.3,1041.6 371.9,1028.1 542.9,1137 499.6,1154" fill="#2b2b2b" clip-path="url(#p3b27)"/>
<clipPath id="p3b28"><polygon points="372.8,999 401.5,989.3 536.9,1070.6 506.2,1082.3"/></clipPath>
<polygon points="372.8,999 401.5,989.3 536.9,1070.6 506.2,1082.3" fill="#141414"/>
<polygon points="401.5,989.3 536.9,1070.6 531.9,1082.6 396.5,999.3" fill="#2b2b2b" clip-path="url(#p3b28)"/>
<line x1="431.3" y1="1007.2" x2="430.3" y2="1018.2" stroke="#444" stroke-width="1.2" clip-path="url(#p3b28)"/>
<line x1="469.2" y1="1029.9" x2="468.2" y2="1040.9" stroke="#444" stroke-width="1.2" clip-path="url(#p3b28)"/>
<line x1="507.2" y1="1052.7" x2="506.2" y2="1063.7" stroke="#444" stroke-width="1.2" clip-path="url(#p3b28)"/>
<line x1="118.7" y1="1082.4" x2="401" y2="987.3" stroke="#444" stroke-width="1.6" />
<polygon points="226.2,1177 238,1187 238.8,1188.9 238.8,1277 231,1272.5 226.5,1264" fill="#4a4a4a"/>
<polygon points="226.2,1177 229.5,1180 230.5,1268 226.5,1264" fill="#2c2c2c"/>
<polygon points="238.8,1188.9 396.8,1127.8 396.8,1155.9 238.8,1220.8" fill="#555555" stroke="#2a2a2a" stroke-width="1" stroke-linejoin="round"/>
<line x1="256.5" y1="1199.7" x2="298.6" y2="1182.2" stroke="#3a3a3a" stroke-width="4.4" stroke-linecap="round"/>
<line x1="256.5" y1="1199.7" x2="298.6" y2="1182.2" stroke="#545454" stroke-width="2.2" stroke-linecap="round"/>
<line x1="298.6" y1="1182.2" x2="387" y2="1145.8" stroke="#1c1c1c" stroke-width="4.2" stroke-linecap="round"/>
<polygon points="400.6,1126.2 541.2,1071.2 538.6,1100 399.9,1154.8" fill="#585858" stroke="#2a2a2a" stroke-width="1" stroke-linejoin="round"/>
<line x1="408.7" y1="1139" x2="499.1" y2="1102.3" stroke="#1c1c1c" stroke-width="4.2" stroke-linecap="round"/>
<line x1="499.1" y1="1102.3" x2="530.3" y2="1089.5" stroke="#3c3c3c" stroke-width="4.4" stroke-linecap="round"/>
<line x1="499.1" y1="1102.3" x2="530.3" y2="1089.5" stroke="#555" stroke-width="2.2" stroke-linecap="round"/>
<polygon points="238.8,1220.8 396.8,1155.9 395.8,1183 238.8,1248.9" fill="#555555" stroke="#2a2a2a" stroke-width="1" stroke-linejoin="round"/>
<line x1="255.3" y1="1229.7" x2="295.6" y2="1212.4" stroke="#3a3a3a" stroke-width="4.4" stroke-linecap="round"/>
<line x1="255.3" y1="1229.7" x2="295.6" y2="1212.4" stroke="#545454" stroke-width="2.2" stroke-linecap="round"/>
<line x1="295.6" y1="1212.4" x2="385.8" y2="1173.9" stroke="#1c1c1c" stroke-width="4.2" stroke-linecap="round"/>
<polygon points="399.9,1154.8 538.6,1100 533.9,1127.2 397.9,1183.3" fill="#585858" stroke="#2a2a2a" stroke-width="1" stroke-linejoin="round"/>
<line x1="407.7" y1="1167.3" x2="498" y2="1129.7" stroke="#1c1c1c" stroke-width="4.2" stroke-linecap="round"/>
<line x1="498" y1="1129.7" x2="527.4" y2="1117.3" stroke="#3c3c3c" stroke-width="4.4" stroke-linecap="round"/>
<line x1="498" y1="1129.7" x2="527.4" y2="1117.3" stroke="#555" stroke-width="2.2" stroke-linecap="round"/>
<polygon points="238.8,1248.9 395.8,1183 394,1210.2 238.8,1277" fill="#555555" stroke="#2a2a2a" stroke-width="1" stroke-linejoin="round"/>
<line x1="255.3" y1="1257.7" x2="295.4" y2="1240.1" stroke="#3a3a3a" stroke-width="4.4" stroke-linecap="round"/>
<line x1="255.3" y1="1257.7" x2="295.4" y2="1240.1" stroke="#545454" stroke-width="2.2" stroke-linecap="round"/>
<line x1="295.4" y1="1240.1" x2="384.6" y2="1201.1" stroke="#1c1c1c" stroke-width="4.2" stroke-linecap="round"/>
<polygon points="397.9,1183.3 533.9,1127.2 530.6,1152.8 394.9,1210.3" fill="#585858" stroke="#2a2a2a" stroke-width="1" stroke-linejoin="round"/>
<line x1="404.8" y1="1194.8" x2="493.7" y2="1156.7" stroke="#1c1c1c" stroke-width="4.2" stroke-linecap="round"/>
<line x1="493.7" y1="1156.7" x2="523.3" y2="1143.8" stroke="#3c3c3c" stroke-width="4.4" stroke-linecap="round"/>
<line x1="493.7" y1="1156.7" x2="523.3" y2="1143.8" stroke="#555" stroke-width="2.2" stroke-linecap="round"/>
<polyline points="238.8,1220.8 396.8,1155.9" fill="none" stroke="#1a1a1a" stroke-width="1.6" stroke-linejoin="round" stroke-linecap="round" />
<polyline points="399.9,1154.8 538.6,1100" fill="none" stroke="#1a1a1a" stroke-width="1.6" stroke-linejoin="round" stroke-linecap="round" />
<polyline points="238.8,1248.9 395.8,1183" fill="none" stroke="#1a1a1a" stroke-width="1.6" stroke-linejoin="round" stroke-linecap="round" />
<polyline points="397.9,1183.3 533.9,1127.2" fill="none" stroke="#1a1a1a" stroke-width="1.6" stroke-linejoin="round" stroke-linecap="round" />
<polyline points="398.8,1126.8 398,1155 396.6,1183 394.4,1210.4" fill="none" stroke="#1c1c1c" stroke-width="2.2" stroke-linejoin="round" stroke-linecap="round" />
<polyline points="238,1187 398.7,1125.6 541.2,1071.2" fill="none" stroke="#4e4e4e" stroke-width="1.4" stroke-linejoin="round" stroke-linecap="round" />
<polygon points="538.5,1100 543.5,1102.5 543.5,1114 538,1116.5" fill="#2a2a2a"/>
<polygon points="534.5,1128 540,1130.5 540,1141 534.5,1143.5" fill="#2a2a2a"/>
<line x1="114" y1="1102.5" x2="228.2" y2="1232.4" stroke="#131313" stroke-width="17" stroke-linecap="round"/>
<line x1="114" y1="1102.5" x2="228.2" y2="1232.4" stroke="#303030" stroke-width="15.5" stroke-linecap="round"/>
<circle cx="114" cy="1102.5" r="4" fill="#161616" stroke="#4a4a4a" stroke-width="0.8"/>
<circle cx="228.2" cy="1232.4" r="4" fill="#161616" stroke="#4a4a4a" stroke-width="0.8"/>
<line x1="160" y1="1154.5" x2="228.2" y2="1232.4" stroke="#464646" stroke-width="13" stroke-linecap="round"/>
<line x1="115.6" y1="1131" x2="228.2" y2="1261.5" stroke="#131313" stroke-width="17" stroke-linecap="round"/>
<line x1="115.6" y1="1131" x2="228.2" y2="1261.5" stroke="#303030" stroke-width="15.5" stroke-linecap="round"/>
<circle cx="115.6" cy="1131" r="4" fill="#161616" stroke="#4a4a4a" stroke-width="0.8"/>
<circle cx="228.2" cy="1261.5" r="4" fill="#161616" stroke="#4a4a4a" stroke-width="0.8"/>
<line x1="166" y1="1189.5" x2="228.2" y2="1261.5" stroke="#484848" stroke-width="13" stroke-linecap="round"/>
<circle cx="228.2" cy="1232.4" r="4.2" fill="#151515" stroke="#6a6a6a" stroke-width="1.3"/>
<circle cx="228.2" cy="1261.5" r="4.2" fill="#151515" stroke="#6a6a6a" stroke-width="1.3"/>
<circle cx="114" cy="1102.5" r="3.4" fill="#151515" stroke="#555" stroke-width="1"/>
<circle cx="115.6" cy="1131" r="3.4" fill="#151515" stroke="#555" stroke-width="1"/>
<line x1="166" y1="1150" x2="168.5" y2="1206.5" stroke="#0f0f0f" stroke-width="16.5" stroke-linecap="round"/>
<line x1="166" y1="1150" x2="168.5" y2="1206.5" stroke="#343434" stroke-width="13.5" stroke-linecap="round"/>
<circle cx="166" cy="1150" r="3.5" fill="#161616" stroke="#4a4a4a" stroke-width="0.8"/>
<circle cx="168.5" cy="1206.5" r="3.5" fill="#161616" stroke="#4a4a4a" stroke-width="0.8"/>
<circle cx="167.5" cy="1179.5" r="3.2" fill="#161616" stroke="#4a4a4a" stroke-width="0.8"/>
<line x1="18" y1="1037.8" x2="52.5" y2="1050.3" stroke="#0f0f0f" stroke-width="17.5" stroke-linecap="round"/>
<line x1="18" y1="1037.8" x2="52.5" y2="1050.3" stroke="#3b3b3b" stroke-width="14.5" stroke-linecap="round"/>
<circle cx="18" cy="1037.8" r="3.8" fill="#161616" stroke="#4a4a4a" stroke-width="0.8"/>
<circle cx="52.5" cy="1050.3" r="3.8" fill="#161616" stroke="#4a4a4a" stroke-width="0.8"/>
<line x1="21" y1="1065.5" x2="52" y2="1077.5" stroke="#0f0f0f" stroke-width="17" stroke-linecap="round"/>
<line x1="21" y1="1065.5" x2="52" y2="1077.5" stroke="#393939" stroke-width="14" stroke-linecap="round"/>
<circle cx="21" cy="1065.5" r="3.6" fill="#161616" stroke="#4a4a4a" stroke-width="0.8"/>
<circle cx="52" cy="1077.5" r="3.6" fill="#161616" stroke="#4a4a4a" stroke-width="0.8"/>
<line x1="60.5" y1="1081.5" x2="103" y2="1095" stroke="#0f0f0f" stroke-width="17" stroke-linecap="round"/>
<line x1="60.5" y1="1081.5" x2="103" y2="1095" stroke="#3a3a3a" stroke-width="14" stroke-linecap="round"/>
<circle cx="60.5" cy="1081.5" r="3.6" fill="#161616" stroke="#4a4a4a" stroke-width="0.8"/>
<circle cx="103" cy="1095" r="3.6" fill="#161616" stroke="#4a4a4a" stroke-width="0.8"/>
<line x1="64" y1="1104" x2="105" y2="1119" stroke="#0f0f0f" stroke-width="17" stroke-linecap="round"/>
<line x1="64" y1="1104" x2="105" y2="1119" stroke="#393939" stroke-width="14" stroke-linecap="round"/>
<circle cx="64" cy="1104" r="3.6" fill="#161616" stroke="#4a4a4a" stroke-width="0.8"/>
<circle cx="105" cy="1119" r="3.6" fill="#161616" stroke="#4a4a4a" stroke-width="0.8"/>
<circle cx="13.5" cy="1010.5" r="2.3" fill="#111"/>
<circle cx="228.4" cy="1202.4" r="2.8" fill="#222" stroke="#666" stroke-width="1"/>
</g>
<g id="p4">
<polygon points="966,1088.4 1131,1088.4 1152,1190 1152,1246.8 943,1246.8 943,1190" fill="#121212"/>
<polygon points="968,1088.6 1129.4,1088.6 1136,1120.6 962,1120.6" fill="#1e1e1e"/>
<polygon points="964,1111 1134,1111 1136,1120.6 962,1120.6" fill="#2a2a2a"/>
<polygon points="945,1120.6 1150,1120.6 1150,1139.4 945,1139.4" fill="#111111"/>
<polygon points="945,1139.4 1150,1139.4 1150,1160.6 945,1160.6" fill="#151515"/>
<polygon points="945,1160.6 1150,1160.6 1150,1184.1 945,1184.1" fill="#111111"/>
<polygon points="945,1184.1 1150,1184.1 1150,1211.2 945,1211.2" fill="#161616"/>
<line x1="950" y1="1120.6" x2="1146" y2="1120.6" stroke="#444" stroke-width="1" />
<line x1="950" y1="1139.4" x2="1146" y2="1139.4" stroke="#444" stroke-width="1" />
<line x1="950" y1="1160.6" x2="1146" y2="1160.6" stroke="#444" stroke-width="1" />
<line x1="950" y1="1184.1" x2="1146" y2="1184.1" stroke="#444" stroke-width="1" />
<line x1="1014" y1="1089" x2="1014" y2="1120" stroke="#383838" stroke-width="1" />
<line x1="1048" y1="1089" x2="1048" y2="1120" stroke="#383838" stroke-width="1" />
<line x1="1082" y1="1089" x2="1082" y2="1120" stroke="#383838" stroke-width="1" />
<line x1="981.5" y1="1140" x2="981" y2="1160.3" stroke="#666" stroke-width="1.1" />
<line x1="1048" y1="1140" x2="1047.5" y2="1160.3" stroke="#666" stroke-width="1.1" />
<line x1="1114.5" y1="1140" x2="1114" y2="1160.3" stroke="#666" stroke-width="1.1" />
<line x1="968" y1="1185" x2="968" y2="1210" stroke="#333" stroke-width="2" />
<line x1="1008.5" y1="1185" x2="1008.5" y2="1210" stroke="#333" stroke-width="2" />
<line x1="1048" y1="1185" x2="1048" y2="1210" stroke="#333" stroke-width="2" />
<line x1="1088" y1="1185" x2="1088" y2="1210" stroke="#333" stroke-width="2" />
<line x1="1128" y1="1185" x2="1128" y2="1210" stroke="#333" stroke-width="2" />
<linearGradient id="p4bd" gradientUnits="userSpaceOnUse" x1="909" y1="0" x2="1187" y2="0"><stop offset="0" stop-color="#2c2c2c"/><stop offset="0.5" stop-color="#333333"/><stop offset="1" stop-color="#464646"/></linearGradient>
<polygon points="911,1230.4 962.4,1230.4 962.4,1211.2 1134,1211.2 1134,1229.5 1185.5,1229.5 1186.4,1246.8 909.5,1246.8" fill="url(#p4bd)"/>
<polygon points="914.6,1198.6 945,1198.6 964,1230.4 918.7,1230.4" fill="#121212"/>
<polygon points="1150,1200 1180.8,1200 1185,1229.5 1133,1229.5" fill="#121212"/>
<polygon points="911,1230.4 914.6,1198.6 918.7,1230.4" fill="#1c1c1c"/>
<polygon points="893,1198.6 914.6,1198.6 911.5,1226" fill="#181818"/>
<polygon points="1204,1200 1180.8,1200 1184.5,1226" fill="#202020"/>
<polygon points="1185.5,1229.5 1180.8,1200 1178,1229.5" fill="#262626"/>
<polygon points="894,1006 920,1047.5 908,1047.5 892.5,1020" fill="#1c1c1c"/>
<polygon points="972,1050 994.6,1088.4 983,1088.4 969.5,1063" fill="#1c1c1c"/>
<polygon points="1123.5,1049 1126,1064 1113.3,1088.4 1100.9,1088.4" fill="#1c1c1c"/>
<polygon points="1202.5,1005 1204.7,1019 1191.2,1047 1178.7,1047" fill="#1c1c1c"/>
<polygon points="879,1047.5 846,1131 830,1180 833,1198 949.2,1198 951.2,1180 964.5,1104.6 971.8,1047.5" fill="#121212"/>
<polygon points="879,1047.5 971.8,1047.5 968,1077.6 867.1,1077.6" fill="#1c1c1c"/>
<polygon points="883.7,1071 954.8,1071 948,1077.6 887.1,1077.6" fill="#292929"/>
<line x1="876.6" y1="1061" x2="967.1" y2="1061" stroke="#3a3a3a" stroke-width="1" />
<polygon points="867.1,1077.6 968,1077.6 965.6,1096.3 859.7,1096.3" fill="#131313"/>
<polygon points="859.7,1096.3 965.6,1096.3 962.5,1116 851.9,1116" fill="#131313"/>
<polygon points="851.9,1116 962.5,1116 958.5,1138.8 843.5,1138.8" fill="#131313"/>
<polygon points="843.5,1138.8 958.5,1138.8 951.2,1180 830,1180" fill="#131313"/>
<polygon points="873.9,1162 932.4,1162 945.2,1180 838,1180" fill="#2e2e2e"/>
<polygon points="830,1180 951.2,1180 949.2,1198 833,1198" fill="#2f2f2f"/>
<line x1="869.1" y1="1077.6" x2="966" y2="1077.6" stroke="#595959" stroke-width="1.1" />
<line x1="861.7" y1="1096.3" x2="963.6" y2="1096.3" stroke="#595959" stroke-width="1.1" />
<line x1="853.9" y1="1116" x2="960.5" y2="1116" stroke="#595959" stroke-width="1.1" />
<line x1="845.5" y1="1138.8" x2="956.5" y2="1138.8" stroke="#595959" stroke-width="1.1" />
<line x1="909.6" y1="1047.5" x2="900.4" y2="1077.6" stroke="#5a5a5a" stroke-width="1.1" />
<line x1="936.5" y1="1047.5" x2="929.6" y2="1077.6" stroke="#5a5a5a" stroke-width="1.1" />
<line x1="904.2" y1="1096.3" x2="898.4" y2="1116" stroke="#5a5a5a" stroke-width="1.1" />
<line x1="884.9" y1="1138.8" x2="878.5" y2="1162" stroke="#5a5a5a" stroke-width="1.1" />
<line x1="919.4" y1="1138.8" x2="914.1" y2="1162" stroke="#5a5a5a" stroke-width="1.1" />
<polyline points="879,1047.5 846,1131 830,1180" fill="none" stroke="#3a3a3a" stroke-width="1.4" stroke-linejoin="round" stroke-linecap="round" />
<polyline points="971.8,1047.5 964.5,1104.6 951.2,1180" fill="none" stroke="#4a4a4a" stroke-width="1.4" stroke-linejoin="round" stroke-linecap="round" />
<line x1="879" y1="1047.5" x2="971.8" y2="1047.5" stroke="#2e2e2e" stroke-width="1.6" />
<polygon points="1123.7,1046.4 1133,1092.1 1147.6,1182 1150.6,1199 1266,1199 1268,1182 1252,1131.6 1219,1046.4" fill="#121212"/>
<polygon points="1123.7,1046.4 1219,1046.4 1230.7,1076.5 1129.8,1076.5" fill="#222222"/>
<polygon points="1142.5,1069.9 1214.1,1069.9 1210.7,1076.5 1149.8,1076.5" fill="#2e2e2e"/>
<line x1="1129.5" y1="1059.9" x2="1221.2" y2="1059.9" stroke="#3a3a3a" stroke-width="1" />
<polygon points="1129.8,1076.5 1230.7,1076.5 1237.9,1095.2 1133.5,1095.2" fill="#191919"/>
<polygon points="1133.5,1095.2 1237.9,1095.2 1246,1116 1136.9,1116" fill="#191919"/>
<polygon points="1136.9,1116 1246,1116 1253.6,1136.7 1140.2,1136.7" fill="#191919"/>
<polygon points="1140.2,1136.7 1253.6,1136.7 1268,1182 1147.6,1182" fill="#191919"/>
<polygon points="1182.7,1164 1240.3,1164 1262,1182 1155.6,1182" fill="#303030"/>
<polygon points="1147.6,1182 1268,1182 1266,1199 1150.6,1199" fill="#343434"/>
<line x1="1131.8" y1="1076.5" x2="1228.7" y2="1076.5" stroke="#595959" stroke-width="1.1" />
<line x1="1135.5" y1="1095.2" x2="1235.9" y2="1095.2" stroke="#595959" stroke-width="1.1" />
<line x1="1138.9" y1="1116" x2="1244" y2="1116" stroke="#595959" stroke-width="1.1" />
<line x1="1142.2" y1="1136.7" x2="1251.6" y2="1136.7" stroke="#595959" stroke-width="1.1" />
<line x1="1155.1" y1="1046.4" x2="1163.1" y2="1076.5" stroke="#5a5a5a" stroke-width="1.1" />
<line x1="1182.8" y1="1046.4" x2="1192.3" y2="1076.5" stroke="#5a5a5a" stroke-width="1.1" />
<line x1="1175.3" y1="1095.2" x2="1180.5" y2="1116" stroke="#5a5a5a" stroke-width="1.1" />
<line x1="1220.2" y1="1095.2" x2="1227.4" y2="1116" stroke="#5a5a5a" stroke-width="1.1" />
<line x1="1177.7" y1="1136.7" x2="1183.5" y2="1164" stroke="#5a5a5a" stroke-width="1.1" />
<line x1="1210.5" y1="1136.7" x2="1217.6" y2="1164" stroke="#5a5a5a" stroke-width="1.1" />
<polyline points="1123.7,1046.4 1133,1092.1 1147.6,1182" fill="none" stroke="#3a3a3a" stroke-width="1.4" stroke-linejoin="round" stroke-linecap="round" />
<polyline points="1219,1046.4 1252,1131.6 1268,1182" fill="none" stroke="#4a4a4a" stroke-width="1.4" stroke-linejoin="round" stroke-linecap="round" />
<line x1="1123.7" y1="1046.4" x2="1219" y2="1046.4" stroke="#2e2e2e" stroke-width="1.6" />
<polygon points="823.2,1146 850,1146 872,1179.2 815.6,1179.2" fill="#121212"/>
<polygon points="812.8,1197.9 815.6,1179.2 823.2,1146 826,1147 819,1179.2" fill="#1e1e1e"/>
<polygon points="815.6,1179.2 884,1179.2 886,1197.9 812.8,1197.9" fill="#2c2c2c"/>
<polygon points="1250,1147 1277.5,1147 1286,1180.5 1228,1180.5" fill="#151515"/>
<polygon points="1286.8,1197.4 1286,1180.5 1277.5,1147 1274.5,1148 1282,1180.5" fill="#2a2a2a"/>
<polygon points="1214,1180.5 1286,1180.5 1286.8,1197.4 1212,1197.4" fill="#3c3c3c"/>
<polygon points="782.9,1004.1 763.7,1036.1 733,1088.3 706.1,1129.5 709.1,1146.7 850.9,1146.7 852.9,1129.5 865.1,1088.3 882,1036.1 894.3,1004.6" fill="#121212"/>
<polygon points="782.9,1004.1 894.3,1004.6 883.6,1032 766.2,1032" fill="#1c1c1c"/>
<polygon points="783.8,1025.9 872,1025.9 863.6,1032 786.2,1032" fill="#292929"/>
<line x1="778.4" y1="1016.7" x2="886.6" y2="1016.7" stroke="#3a3a3a" stroke-width="1" />
<polygon points="766.2,1032 883.6,1032 877.8,1049.2 756,1049.2" fill="#131313"/>
<polygon points="756,1049.2 877.8,1049.2 871.5,1068.4 744.7,1068.4" fill="#131313"/>
<polygon points="744.7,1068.4 871.5,1068.4 865.2,1088 733.2,1088" fill="#131313"/>
<polygon points="733.2,1088 865.2,1088 852.9,1129.5 706.1,1129.5" fill="#131313"/>
<polygon points="755.9,1111.5 836.2,1111.5 846.9,1129.5 714.1,1129.5" fill="#2e2e2e"/>
<polygon points="706.1,1129.5 852.9,1129.5 850.9,1146.7 709.1,1146.7" fill="#2f2f2f"/>
<line x1="768.2" y1="1032" x2="881.6" y2="1032" stroke="#595959" stroke-width="1.1" />
<line x1="758" y1="1049.2" x2="875.8" y2="1049.2" stroke="#595959" stroke-width="1.1" />
<line x1="746.7" y1="1068.4" x2="869.5" y2="1068.4" stroke="#595959" stroke-width="1.1" />
<line x1="735.2" y1="1088" x2="863.2" y2="1088" stroke="#595959" stroke-width="1.1" />
<line x1="823.1" y1="1004.1" x2="808.4" y2="1032" stroke="#5a5a5a" stroke-width="1.1" />
<line x1="853.2" y1="1004.1" x2="840.1" y2="1032" stroke="#5a5a5a" stroke-width="1.1" />
<line x1="791.3" y1="1049.2" x2="781.5" y2="1068.4" stroke="#5a5a5a" stroke-width="1.1" />
<line x1="843.7" y1="1049.2" x2="836" y2="1068.4" stroke="#5a5a5a" stroke-width="1.1" />
<line x1="786" y1="1088" x2="774" y2="1111.5" stroke="#5a5a5a" stroke-width="1.1" />
<line x1="820.3" y1="1088" x2="810.5" y2="1111.5" stroke="#5a5a5a" stroke-width="1.1" />
<polyline points="782.9,1004.1 763.7,1036.1 733,1088.3 706.1,1129.5" fill="none" stroke="#3a3a3a" stroke-width="1.4" stroke-linejoin="round" stroke-linecap="round" />
<polyline points="894.3,1004.6 882,1036.1 865.1,1088.3 852.9,1129.5" fill="none" stroke="#4a4a4a" stroke-width="1.4" stroke-linejoin="round" stroke-linecap="round" />
<line x1="782.9" y1="1004.1" x2="894.3" y2="1004.6" stroke="#2e2e2e" stroke-width="1.6" />
<polygon points="1202.3,1002.6 1213,1036.1 1230.7,1088.3 1247.6,1129 1250.6,1147.5 1393.1,1147.5 1395.1,1128.3 1366.7,1088.3 1333.6,1033 1315.2,1002" fill="#121212"/>
<polygon points="1202.3,1002.6 1315.2,1002 1333,1032 1211.7,1032" fill="#2d2d2d"/>
<polygon points="1223.6,1025.5 1315.2,1025.5 1313,1032 1231.7,1032" fill="#3a3a3a"/>
<line x1="1209.5" y1="1015.8" x2="1320.4" y2="1015.8" stroke="#3a3a3a" stroke-width="1" />
<polygon points="1211.7,1032 1333,1032 1343.3,1049.2 1217.4,1049.2" fill="#272727"/>
<polygon points="1217.4,1049.2 1343.3,1049.2 1354.8,1068.4 1224,1068.4" fill="#272727"/>
<polygon points="1224,1068.4 1354.8,1068.4 1366.5,1088 1230.6,1088" fill="#272727"/>
<polygon points="1230.6,1088 1366.5,1088 1395.5,1129 1247.6,1129" fill="#272727"/>
<polygon points="1272.3,1032 1333,1032 1343.3,1049.2 1315.6,1049.2" fill="#161616"/>
<polygon points="1234.4,1049.2 1251.4,1049.2 1259.3,1068.4 1251.5,1068.4" fill="#161616"/>
<polygon points="1278.5,1049.2 1305.5,1049.2 1315.5,1068.4 1303.2,1068.4" fill="#161616"/>
<polygon points="1324.4,1049.2 1343.3,1049.2 1354.8,1068.4 1346.2,1068.4" fill="#161616"/>
<polygon points="1289.4,1068.4 1354.8,1068.4 1366.5,1088 1336.6,1088" fill="#161616"/>
<polygon points="1255.1,1088 1279.5,1088 1291.5,1111 1280.2,1111" fill="#161616"/>
<polygon points="1297.9,1088 1316.2,1088 1330,1111 1321.5,1111" fill="#161616"/>
<polygon points="1341.4,1088 1366.5,1088 1382.8,1111 1371.2,1111" fill="#161616"/>
<polygon points="1278.1,1111 1360.8,1111 1389.5,1129 1255.6,1129" fill="#3a3a3a"/>
<linearGradient id="sfg2" gradientUnits="userSpaceOnUse" x1="1247.6" y1="0" x2="1395.1" y2="0"><stop offset="0" stop-color="#444444"/><stop offset="1" stop-color="#606060"/></linearGradient>
<polygon points="1247.6,1129 1395.1,1128.3 1393.1,1147.5 1250.6,1147.5" fill="url(#sfg2)"/>
<line x1="1213.7" y1="1032" x2="1331" y2="1032" stroke="#595959" stroke-width="1.1" />
<line x1="1219.4" y1="1049.2" x2="1341.3" y2="1049.2" stroke="#595959" stroke-width="1.1" />
<line x1="1226" y1="1068.4" x2="1352.8" y2="1068.4" stroke="#595959" stroke-width="1.1" />
<line x1="1232.6" y1="1088" x2="1364.5" y2="1088" stroke="#595959" stroke-width="1.1" />
<line x1="1243.1" y1="1002.6" x2="1255.4" y2="1032" stroke="#5a5a5a" stroke-width="1.1" />
<line x1="1273.7" y1="1002.6" x2="1288.1" y2="1032" stroke="#5a5a5a" stroke-width="1.1" />
<line x1="1251.4" y1="1049.2" x2="1259.3" y2="1068.4" stroke="#5a5a5a" stroke-width="1.1" />
<line x1="1305.5" y1="1049.2" x2="1315.5" y2="1068.4" stroke="#5a5a5a" stroke-width="1.1" />
<line x1="1279.5" y1="1088" x2="1291.5" y2="1111" stroke="#5a5a5a" stroke-width="1.1" />
<line x1="1316.2" y1="1088" x2="1330" y2="1111" stroke="#5a5a5a" stroke-width="1.1" />
<polyline points="1202.3,1002.6 1213,1036.1 1230.7,1088.3 1247.6,1129" fill="none" stroke="#3a3a3a" stroke-width="1.4" stroke-linejoin="round" stroke-linecap="round" />
<polyline points="1315.2,1002 1333.6,1033 1366.7,1088.3 1395.1,1128.3" fill="none" stroke="#4a4a4a" stroke-width="1.4" stroke-linejoin="round" stroke-linecap="round" />
<line x1="1202.3" y1="1002.6" x2="1315.2" y2="1002" stroke="#2e2e2e" stroke-width="1.6" />
<clipPath id="p4ac"><rect x="690" y="980" width="755" height="267.2"/></clipPath><g clip-path="url(#p4ac)">
<line x1="779.1" y1="1139.8" x2="818.4" y2="1191.5" stroke="#262626" stroke-width="16" stroke-linecap="round"/>
<line x1="779.1" y1="1139.8" x2="818.4" y2="1191.5" stroke="#3a3a3a" stroke-width="14.5" stroke-linecap="round"/>
<circle cx="779.1" cy="1139.8" r="3.8" fill="#161616" stroke="#4a4a4a" stroke-width="0.8"/>
<circle cx="818.4" cy="1191.5" r="3.8" fill="#161616" stroke="#4a4a4a" stroke-width="0.8"/>
<line x1="843.3" y1="1139.1" x2="917.3" y2="1241.5" stroke="#262626" stroke-width="16" stroke-linecap="round"/>
<line x1="843.3" y1="1139.1" x2="917.3" y2="1241.5" stroke="#3a3a3a" stroke-width="14.5" stroke-linecap="round"/>
<circle cx="843.3" cy="1139.1" r="3.8" fill="#161616" stroke="#4a4a4a" stroke-width="0.8"/>
<circle cx="917.3" cy="1241.5" r="3.8" fill="#161616" stroke="#4a4a4a" stroke-width="0.8"/>
<line x1="943.6" y1="1188.9" x2="978.2" y2="1241.5" stroke="#262626" stroke-width="16" stroke-linecap="round"/>
<line x1="943.6" y1="1188.9" x2="978.2" y2="1241.5" stroke="#3a3a3a" stroke-width="14.5" stroke-linecap="round"/>
<circle cx="943.6" cy="1188.9" r="3.8" fill="#161616" stroke="#4a4a4a" stroke-width="0.8"/>
<circle cx="978.2" cy="1241.5" r="3.8" fill="#161616" stroke="#4a4a4a" stroke-width="0.8"/>
<line x1="1321.1" y1="1139.5" x2="1280.5" y2="1192" stroke="#2a2a2a" stroke-width="16" stroke-linecap="round"/>
<line x1="1321.1" y1="1139.5" x2="1280.5" y2="1192" stroke="#424242" stroke-width="14.5" stroke-linecap="round"/>
<circle cx="1321.1" cy="1139.5" r="3.8" fill="#161616" stroke="#4a4a4a" stroke-width="0.8"/>
<circle cx="1280.5" cy="1192" r="3.8" fill="#161616" stroke="#4a4a4a" stroke-width="0.8"/>
<line x1="1254.9" y1="1138.5" x2="1179.9" y2="1240.6" stroke="#2a2a2a" stroke-width="16" stroke-linecap="round"/>
<line x1="1254.9" y1="1138.5" x2="1179.9" y2="1240.6" stroke="#424242" stroke-width="14.5" stroke-linecap="round"/>
<circle cx="1254.9" cy="1138.5" r="3.8" fill="#161616" stroke="#4a4a4a" stroke-width="0.8"/>
<circle cx="1179.9" cy="1240.6" r="3.8" fill="#161616" stroke="#4a4a4a" stroke-width="0.8"/>
<line x1="1152.9" y1="1190" x2="1117.5" y2="1240.6" stroke="#2a2a2a" stroke-width="16" stroke-linecap="round"/>
<line x1="1152.9" y1="1190" x2="1117.5" y2="1240.6" stroke="#404040" stroke-width="14.5" stroke-linecap="round"/>
<circle cx="1152.9" cy="1190" r="3.8" fill="#161616" stroke="#4a4a4a" stroke-width="0.8"/>
<circle cx="1117.5" cy="1240.6" r="3.8" fill="#161616" stroke="#4a4a4a" stroke-width="0.8"/>
</g>
<circle cx="881.3" cy="1191.7" r="3.6" fill="#161616" stroke="#4a4a4a" stroke-width="0.8"/>
<circle cx="1216.1" cy="1192" r="3.6" fill="#161616" stroke="#4a4a4a" stroke-width="0.8"/>
<line x1="727.9" y1="1107.6" x2="715.3" y2="1128" stroke="#fff" stroke-width="2.6" stroke-linecap="round"/>
<line x1="780.3" y1="1015.8" x2="775.8" y2="1022.8" stroke="#fff" stroke-width="2.2" stroke-linecap="round"/>
<line x1="1316.3" y1="1013.5" x2="1321.6" y2="1021" stroke="#fff" stroke-width="2.2" stroke-linecap="round"/>
<line x1="1373" y1="1108.8" x2="1385.3" y2="1126.2" stroke="#fff" stroke-width="2.6" stroke-linecap="round"/>
<line x1="1271" y1="1156.5" x2="1281" y2="1173.8" stroke="#fff" stroke-width="2" stroke-linecap="round"/>
<circle cx="716" cy="1138.5" r="1.5" fill="#777"/>
<circle cx="1387" cy="1138" r="1.5" fill="#888"/>
</g>
</svg>
</body></html>
